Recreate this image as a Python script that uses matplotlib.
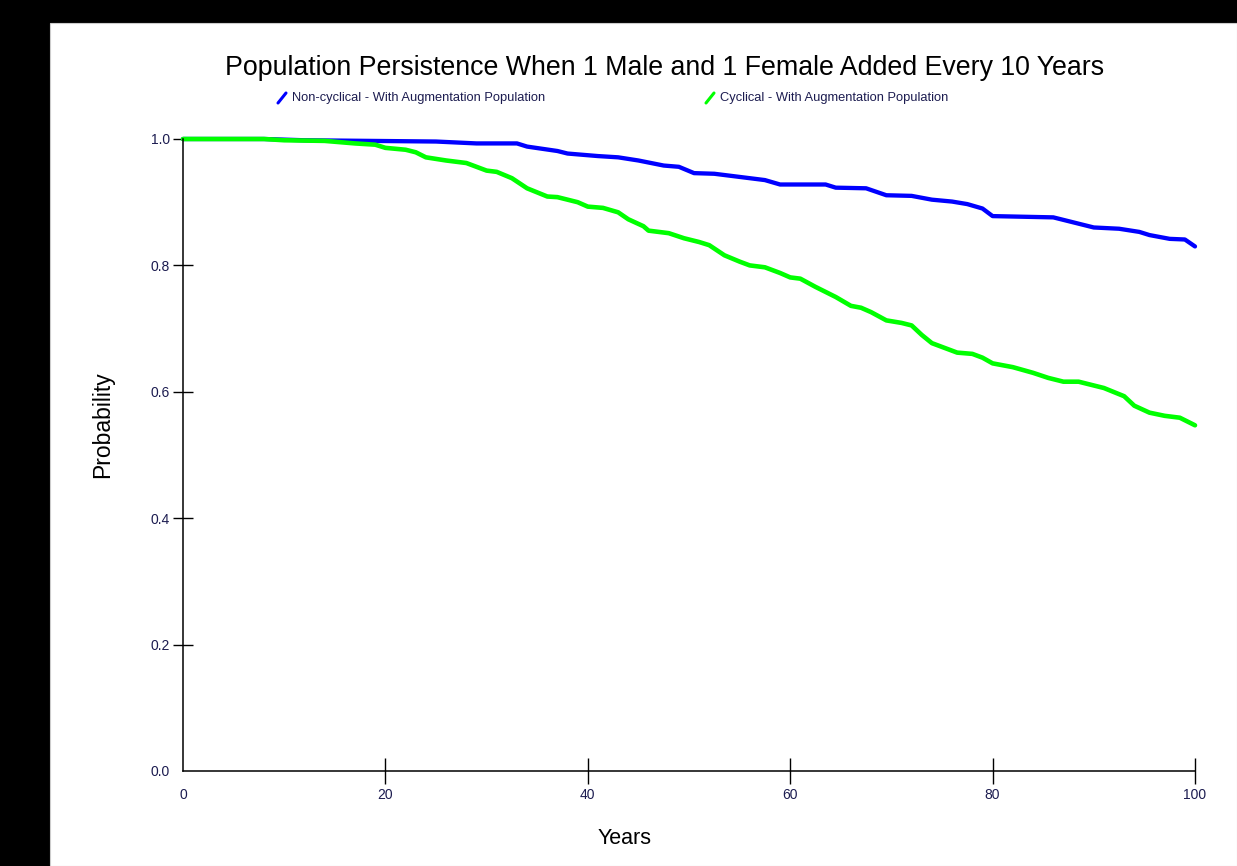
import matplotlib
matplotlib.use("Agg")
import matplotlib.pyplot as plt
from matplotlib.lines import Line2D
from matplotlib.patches import Rectangle

plt.rcParams["font.family"] = ["Liberation Sans", "DejaVu Sans"]

# Datos
anios_azul = [0, 8, 12, 25, 29, 33, 34, 37, 38, 41, 43, 45, 47.5, 49, 50.5, 52.5, 55,
              57.5, 59, 63.5, 64.5, 67.5, 69.5, 72, 74, 76, 77.5, 79, 80, 86, 87, 88,
              90, 92.5, 94.5, 95.5, 97.5, 99, 100]
prob_azul = [1.0, 1.0, 0.998, 0.996, 0.993, 0.993, 0.988, 0.981, 0.977, 0.973, 0.971,
             0.966, 0.958, 0.956, 0.946, 0.945, 0.940, 0.935, 0.928, 0.928, 0.923,
             0.922, 0.911, 0.910, 0.904, 0.901, 0.897, 0.890, 0.878, 0.876, 0.872,
             0.868, 0.860, 0.858, 0.853, 0.848, 0.842, 0.841, 0.830]

anios_verde = [0, 8, 10, 14, 17, 19, 20, 22, 23, 24, 26, 28, 30, 31, 32.5, 34, 36, 37,
               39, 40, 41.5, 43, 44, 45.5, 46, 48, 49.5, 51, 52, 53.5, 55, 56, 57.5, 59,
               60, 61, 62.5, 64.5, 66, 67, 68, 69.5, 71, 72, 73, 74, 75.5, 76.5, 78, 79,
               80, 82, 84, 85.5, 87, 88.5, 90, 91, 93, 94, 95.5, 97, 98.5, 100]
prob_verde = [1.0, 1.0, 0.998, 0.997, 0.993, 0.991, 0.986, 0.983, 0.979, 0.971, 0.966,
              0.962, 0.950, 0.948, 0.938, 0.922, 0.909, 0.908, 0.900, 0.893, 0.891,
              0.884, 0.873, 0.862, 0.855, 0.851, 0.843, 0.837, 0.832, 0.816, 0.806,
              0.800, 0.797, 0.788, 0.781, 0.779, 0.766, 0.750, 0.736, 0.733, 0.726,
              0.713, 0.709, 0.705, 0.690, 0.677, 0.668, 0.662, 0.660, 0.654, 0.645,
              0.639, 0.630, 0.622, 0.616, 0.616, 0.610, 0.606, 0.593, 0.578, 0.567,
              0.562, 0.559, 0.547]

etiqueta_azul = "Non-cyclical - With Augmentation Population"
etiqueta_verde = "Cyclical - With Augmentation Population"
titulo = "Population Persistence When 1 Male and 1 Female Added Every 10 Years"

W, H = 1237, 866
fig = plt.figure(figsize=(W / 100, H / 100), dpi=100, facecolor="black")

# Panel blanco sobre fondo negro
fig.add_artist(Rectangle((50 / W, 0), 1 - 50 / W, 1 - 23 / H, transform=fig.transFigure,
                         facecolor="white", edgecolor="#cccccc", linewidth=0.8, zorder=0))

ax = fig.add_axes([183 / W, 1 - 771 / H, (1195 - 183) / W, (771 - 139) / H])
ax.set_facecolor("none")

ax.plot(anios_azul, prob_azul, color="#0000ff", linewidth=3.1, clip_on=False,
        solid_joinstyle="round", solid_capstyle="round")
ax.plot(anios_verde, prob_verde, color="#00ff00", linewidth=3.3, clip_on=False,
        solid_joinstyle="round", solid_capstyle="round")

ax.set_xlim(0, 100)
ax.set_ylim(0, 1)
ax.set_xticks([0, 20, 40, 60, 80, 100])
ax.set_yticks([0.0, 0.2, 0.4, 0.6, 0.8, 1.0])
ax.set_yticklabels(["0.0", "0.2", "0.4", "0.6", "0.8", "1.0"])

for lado in ["top", "right"]:
    ax.spines[lado].set_visible(False)
for lado in ["left", "bottom"]:
    ax.spines[lado].set_linewidth(1.1)
    ax.spines[lado].set_color("black")

ax.tick_params(axis="x", direction="inout", length=19, width=1.0, pad=3,
               labelsize=10, labelcolor="#1c1c50")
ax.tick_params(axis="y", direction="inout", length=15, width=1.0, pad=2,
               labelsize=10, labelcolor="#1c1c50")
ax.xaxis.get_major_ticks()[0].tick1line.set_visible(False)
ax.yaxis.get_major_ticks()[0].tick1line.set_visible(False)

fig.text(665 / W, 1 - 68 / H, titulo, ha="center", va="center", fontsize=19.3, color="black")
fig.text(625 / W, 1 - 839 / H, "Years", ha="center", va="center", fontsize=15.5, color="black")
fig.text(103 / W, 1 - 425 / H, "Probability", ha="center", va="center", rotation=90,
         fontsize=16.5, color="black")

# Leyenda con marcas diagonales
for x0, color, texto in [(278, "#0000ff", etiqueta_azul), (706, "#00ff00", etiqueta_verde)]:
    fig.add_artist(Line2D([x0 / W, (x0 + 8) / W], [1 - 103 / H, 1 - 93 / H],
                          transform=fig.transFigure, color=color, linewidth=2.2,
                          solid_capstyle="round"))
    fig.text((x0 + 14) / W, 1 - 98 / H, texto, ha="left", va="center", fontsize=9.3,
             color="#1c1c50")

fig.savefig("out.png", dpi=100, facecolor="black")
